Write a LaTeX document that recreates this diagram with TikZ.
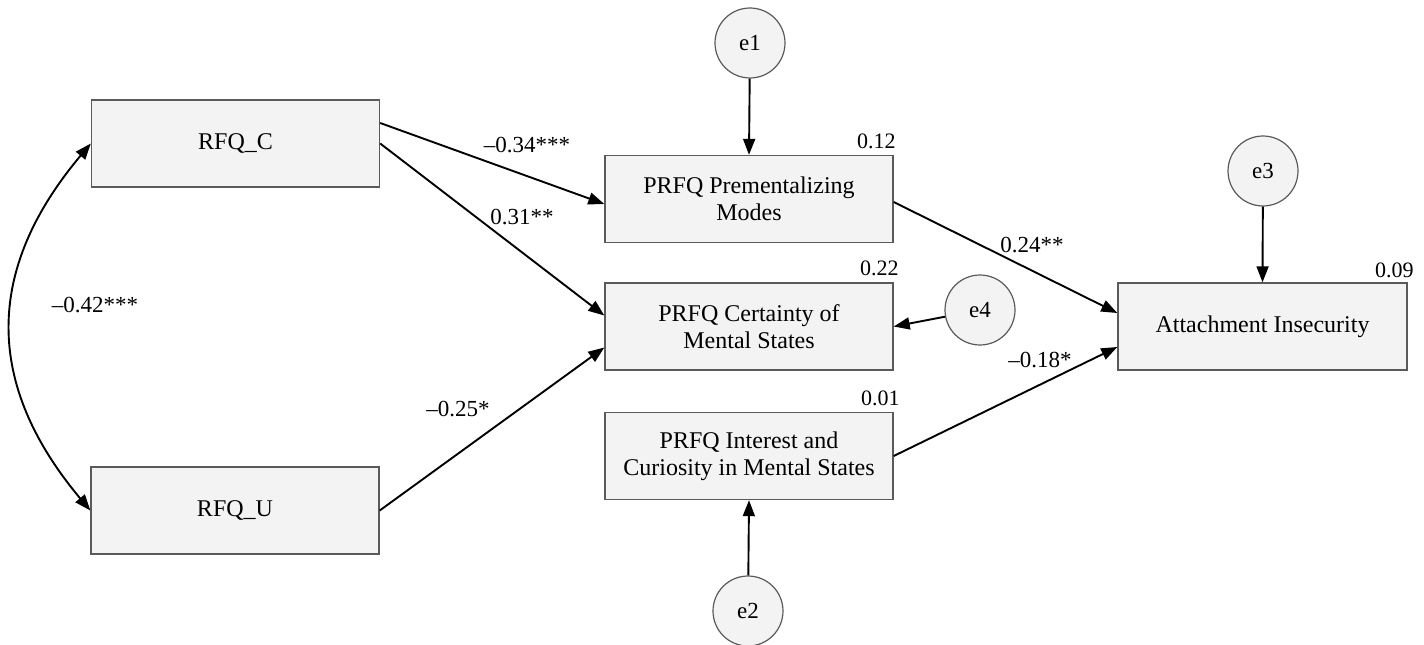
\documentclass[tikz,border=0pt]{standalone}
\usepackage{fontspec}
\setmainfont{Liberation Serif}
\usetikzlibrary{arrows.meta,calc}
\definecolor{boxfill}{HTML}{F3F3F3}
\definecolor{boxdraw}{HTML}{5A5A5A}
\begin{document}
\begin{tikzpicture}[x=1pt,y=-1pt,
  var/.style={draw=boxdraw, fill=boxfill, line width=1.4pt, minimum width=288pt, minimum height=87pt, inner sep=0pt, align=center, font=\fontsize{24}{27}\selectfont},
  err/.style={circle, draw=boxdraw, fill=boxfill, line width=1.2pt, minimum size=70pt, inner sep=0pt, font=\fontsize{23}{27}\selectfont},
  conn/.style={line width=1.9pt, -{Triangle[length=16pt,width=12pt]}},
  coef/.style={font=\fontsize{23}{27}\selectfont, inner sep=0pt},
  rsq/.style={font=\fontsize{22}{26}\selectfont, inner sep=0pt, anchor=base east},
]
\useasboundingbox (0,0) rectangle (1424,645);

% observed variables
\node[var] (rfqc) at (235.5,143.5) {RFQ\_C};
\node[var] (rfqu) at (235,510.5) {RFQ\_U};
\node[var] (pm)   at (749,199) {PRFQ Prementalizing\\Modes};
\node[var] (cert) at (749,326.5) {PRFQ Certainty of\\Mental States};
\node[var] (int)  at (749,456) {PRFQ Interest and\\Curiosity in Mental States};
\node[var, minimum width=289pt] (att) at (1262.5,326.5) {Attachment Insecurity};

% error terms
\node[err] (e1) at (750,43) {e1};
\node[err] (e2) at (748,611) {e2};
\node[err] (e3) at (1263,171) {e3};
\node[err] (e4) at (980,310) {e4};

% R-squared values
\node[rsq] (r1) at ($(pm.north east)+(2,-6)$) {0.12};
\node[rsq] (r2) at ($(cert.north east)+(5,-7)$) {0.22};
\node[rsq] (r3) at ($(int.north east)+(6,-6)$) {0.01};
\node[rsq] (r4) at ($(att.north east)+(6,-5)$) {0.09};

% paths
\draw[conn] ($(rfqc.east)+(0,-20.5)$) -- ($(pm.west)+(0,5)$);
\draw[conn] (rfqc.east) -- ($(cert.west)+(0,-11)$);
\draw[conn] (rfqu.east) -- ($(cert.west)+(0,21)$);
\draw[conn] ($(pm.east)+(0,3)$) -- ($(att.west)+(0,-13.5)$);
\draw[conn] (int.east) -- ($(att.west)+(0,20.5)$);

\draw[conn] (e1) -- (pm.north);
\draw[conn] (e2) -- (int.south);
\draw[conn] (e3) -- (att.north);
\draw[conn] (e4) -- (cert.east);

% covariance
\draw[line width=1.9pt, {Triangle[length=16pt,width=12pt]}-{Triangle[length=16pt,width=12pt]}]
  (rfqc.west) .. controls (-15.5,270) and (-15.5,384) .. (rfqu.west);

% coefficients
\node[coef] (c1) at (527,145) {–0.34***};
\node[coef] (c2) at (522,217) {0.31**};
\node[coef] (c3) at (458,409) {–0.25*};
\node[coef] (c4) at (1032,245) {0.24**};
\node[coef] (c5) at (1040,360) {–0.18*};
\node[coef] (c6) at (95,305) {–0.42***};
\end{tikzpicture}
\end{document}
